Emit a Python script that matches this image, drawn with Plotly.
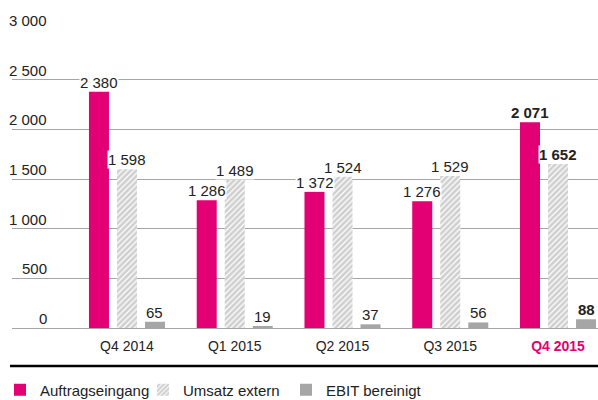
import plotly.graph_objects as go

# Quarterly figures (in millions of euro)
quarters = ["Q4 2014", "Q1 2015", "Q2 2015", "Q3 2015", "Q4 2015"]
auftragseingang = [2380, 1286, 1372, 1276, 2071]
umsatz_extern = [1598, 1489, 1524, 1529, 1652]
ebit_bereinigt = [65, 19, 37, 56, 88]

series_names = ["Auftragseingang", "Umsatz extern", "EBIT bereinigt"]
y_ticks = [0, 500, 1000, 1500, 2000, 2500, 3000]
y_tick_labels = ["0", "500", "1 000", "1 500", "2 000", "2 500", "3 000"]

MAGENTA = "#E20074"
GREY = "#A6A6A6"
HATCH = "#A0A0A0"
GRID = "#A6A6A6"
TEXT = "#222222"
FONT = "Liberation Sans"


def fmt(v):
    return f"{v:,}".replace(",", " ")


fig = go.Figure()
fig.add_trace(go.Bar(x=quarters, y=auftragseingang, name=series_names[0],
                     marker=dict(color=MAGENTA, line=dict(width=0))))
fig.add_trace(go.Bar(x=quarters, y=umsatz_extern, name=series_names[1],
                     marker=dict(color="white", line=dict(width=0),
                                 pattern=dict(shape="/", fgcolor=HATCH,
                                              bgcolor="white", size=4,
                                              solidity=0.68))))
fig.add_trace(go.Bar(x=quarters, y=ebit_bereinigt, name=series_names[2],
                     marker=dict(color=GREY, line=dict(width=0))))

# value labels above each bar; the last quarter is highlighted in bold
annotations = []
offsets = [-28, 0, 28]
for s_idx, values in enumerate([auftragseingang, umsatz_extern, ebit_bereinigt]):
    for q_idx, (q, v) in enumerate(zip(quarters, values)):
        label = fmt(v)
        if q_idx == len(quarters) - 1:
            label = f"<b>{label}</b>"
        annotations.append(dict(
            x=q, y=v, xref="x", yref="y", text=label, showarrow=False,
            xanchor="center", yanchor="bottom", xshift=offsets[s_idx],
            yshift=0, bgcolor="white", borderpad=0,
            font=dict(family=FONT, size=15, color=TEXT)))

# y tick labels sit above their gridlines, right-aligned
for val, lab in zip(y_ticks, y_tick_labels):
    annotations.append(dict(
        x=37 / 586, y=val, xref="paper", yref="y", text=lab, showarrow=False,
        xanchor="right", yanchor="bottom", yshift=-1,
        font=dict(family=FONT, size=15, color=TEXT)))

tick_text = quarters[:-1] + [f"<span style='color:{MAGENTA}'><b>{quarters[-1]}</b></span>"]

fig.update_layout(
    width=598, height=400,
    margin=dict(l=12, r=0, t=29, b=72, autoexpand=False),
    paper_bgcolor="white", plot_bgcolor="white",
    barmode="group", bargap=0.22, bargroupgap=0.286,
    font=dict(family=FONT, size=14, color=TEXT),
    xaxis=dict(type="category", range=[-1.067, 4.371],
               tickvals=quarters, ticktext=tick_text,
               showgrid=False, showline=False, zeroline=False,
               ticks="", ticklabelstandoff=8,
               tickfont=dict(family=FONT, size=14, color=TEXT)),
    yaxis=dict(range=[0, 3010], tickmode="array", tickvals=y_ticks,
               showticklabels=False,
               showgrid=True, gridcolor=GRID, gridwidth=1,
               zeroline=True, zerolinecolor=GRID, zerolinewidth=1,
               showline=False, ticks=""),
    legend=dict(orientation="h", xref="container", x=-10 / 598, xanchor="left",
                yref="container", y=0.025, yanchor="middle",
                entrywidthmode="pixels", entrywidth=98,
                font=dict(family=FONT, size=15, color=TEXT),
                itemclick=False, traceorder="normal"),
    annotations=annotations,
    shapes=[dict(type="line", xref="paper", yref="paper",
                 x0=-2 / 586, x1=1, y0=-0.127, y1=-0.127,
                 line=dict(color="black", width=2.5))],
)

fig.write_html("out.html")
